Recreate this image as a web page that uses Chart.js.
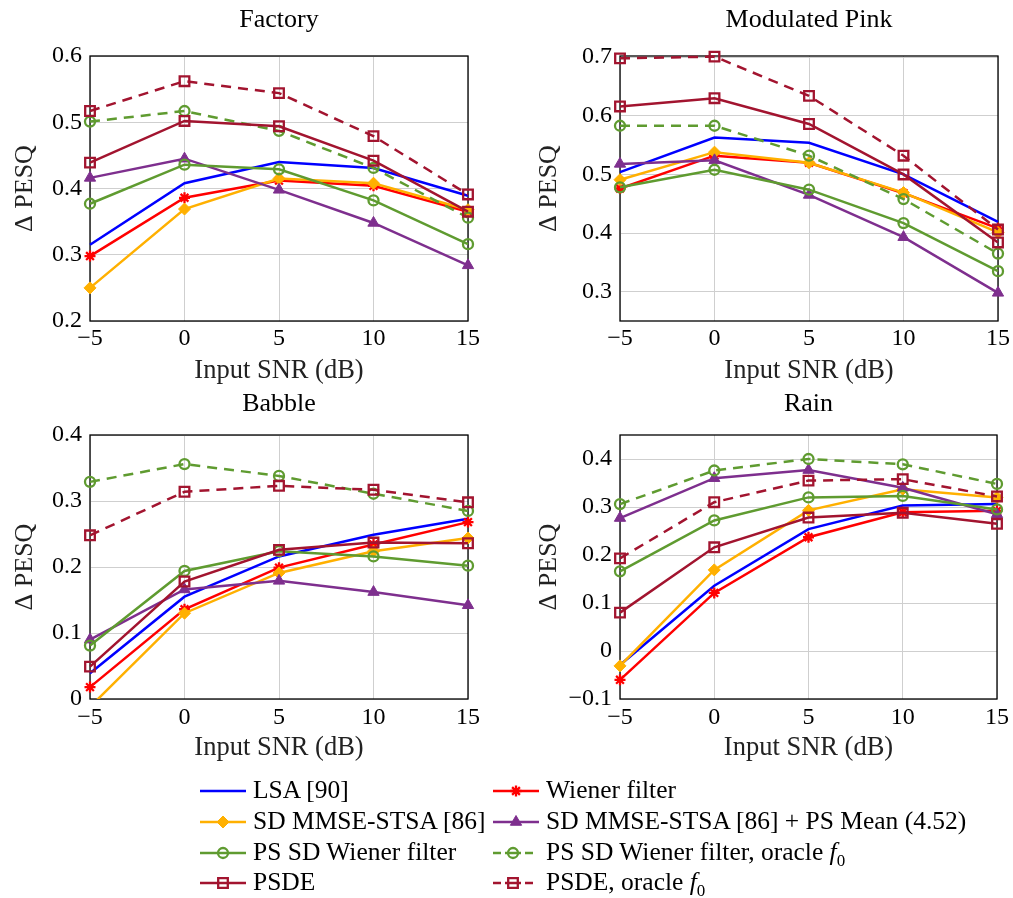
<!DOCTYPE html>
<html>
<head>
<meta charset="utf-8">
<script src="https://cdn.jsdelivr.net/npm/chart.js@4.4.0/dist/chart.umd.min.js"></script>
<style>
  body { margin: 0; background: #fff; width: 1013px; height: 898px; position: relative; overflow: hidden; font-family: 'Liberation Serif', serif; }
  canvas.panel { position: absolute; }
  #legendCanvas { position: absolute; left: 0; top: 770px; }
  .item { position: absolute; font-size: 25.5px; line-height: 30px; white-space: nowrap; color: #000; }
  .item sub { font-size: 17px; line-height: 0; }
</style>
</head>
<body>
<canvas id="factory" class="panel"></canvas>
<canvas id="pink" class="panel"></canvas>
<canvas id="babble" class="panel"></canvas>
<canvas id="rain" class="panel"></canvas>
<canvas id="legendCanvas" width="1013" height="128"></canvas>

<script>
// x values (input SNR in dB)
const snr = [-5, 0, 5, 10, 15];

// series names, in plotting order
const seriesNames = [
  'LSA [90]',
  'Wiener filter',
  'SD MMSE-STSA [86]',
  'SD MMSE-STSA [86] + PS Mean (4.52)',
  'PS SD Wiener filter',
  'PS SD Wiener filter, oracle <i>f</i><sub>0</sub>',
  'PSDE',
  'PSDE, oracle <i>f</i><sub>0</sub>'
];

// Δ PESQ values, one row per series (same order as seriesNames)
const factoryValues = [
  [0.315, 0.408, 0.440, 0.431, 0.389],
  [0.298, 0.386, 0.412, 0.404, 0.365],
  [0.250, 0.369, 0.415, 0.408, 0.368],
  [0.416, 0.445, 0.398, 0.348, 0.284],
  [0.377, 0.436, 0.429, 0.382, 0.316],
  [0.501, 0.517, 0.487, 0.431, 0.356],
  [0.439, 0.502, 0.494, 0.442, 0.365],
  [0.517, 0.562, 0.544, 0.479, 0.391]
];
const pinkValues = [
  [0.504, 0.563, 0.554, 0.500, 0.419],
  [0.476, 0.532, 0.520, 0.468, 0.408],
  [0.491, 0.538, 0.520, 0.469, 0.401],
  [0.518, 0.524, 0.465, 0.393, 0.298],
  [0.478, 0.508, 0.474, 0.417, 0.335],
  [0.583, 0.583, 0.532, 0.458, 0.365],
  [0.616, 0.630, 0.586, 0.500, 0.384],
  [0.698, 0.701, 0.634, 0.532, 0.406]
];
const babbleValues = [
  [0.039, 0.155, 0.216, 0.249, 0.273],
  [0.018, 0.136, 0.199, 0.234, 0.268],
  [-0.012, 0.130, 0.191, 0.224, 0.244],
  [0.090, 0.166, 0.179, 0.162, 0.142],
  [0.081, 0.194, 0.224, 0.216, 0.202],
  [0.329, 0.356, 0.338, 0.311, 0.285],
  [0.049, 0.178, 0.226, 0.237, 0.236],
  [0.248, 0.314, 0.323, 0.317, 0.298]
];
const rainValues = [
  [-0.029, 0.136, 0.254, 0.303, 0.306],
  [-0.060, 0.121, 0.237, 0.289, 0.292],
  [-0.031, 0.169, 0.293, 0.337, 0.320],
  [0.277, 0.360, 0.377, 0.340, 0.285],
  [0.166, 0.272, 0.320, 0.323, 0.295],
  [0.306, 0.376, 0.400, 0.389, 0.348],
  [0.080, 0.216, 0.278, 0.288, 0.265],
  [0.193, 0.310, 0.355, 0.358, 0.322]
];

// tick labels
const snrTicks = [-5, 0, 5, 10, 15];
const factoryTicks = [0.2, 0.3, 0.4, 0.5, 0.6];
const pinkTicks = [0.3, 0.4, 0.5, 0.6, 0.7];
const babbleTicks = [0, 0.1, 0.2, 0.3, 0.4];
const rainTicks = [-0.1, 0, 0.1, 0.2, 0.3, 0.4];

// series styles
const blue = '#0000ff', red = '#ff0000', orange = '#ffb000', purple = '#7e2f8e';
const green = '#5f9b30', darkRed = '#a2142f';
const styles = [
  { color: blue,    marker: false,      r: 0,   fill: false, dash: [] },
  { color: red,     marker: 'star',     r: 5.5, fill: false, dash: [] },
  { color: orange,  marker: 'rectRot',  r: 6,   fill: true,  dash: [] },
  { color: purple,  marker: 'triangle', r: 6.5, fill: true,  dash: [] },
  { color: green,   marker: 'circle',   r: 5,   fill: false, dash: [] },
  { color: green,   marker: 'circle',   r: 5,   fill: false, dash: [10, 7] },
  { color: darkRed, marker: 'rect',     r: 6.8, fill: false, dash: [] },
  { color: darkRed, marker: 'rect',     r: 6.8, fill: false, dash: [10, 7] }
];

const FONT = "'Liberation Serif', serif";
Chart.defaults.font.family = FONT;
Chart.defaults.color = '#000';

function fmt(v) {
  return (v < 0 ? '\u2212' : '') + Math.abs(v);
}

// frame around the plot area, under the data
const framePlugin = {
  id: 'frame',
  beforeDatasetsDraw(chart) {
    const a = chart.chartArea, ctx = chart.ctx;
    ctx.save();
    ctx.strokeStyle = '#000';
    ctx.lineWidth = 1.3;
    ctx.strokeRect(a.left, a.top, a.right - a.left, a.bottom - a.top);
    ctx.restore();
  }
};

function makePanel(id, p) {
  const cv = document.getElementById(id);
  cv.width = p.w; cv.height = p.h;
  cv.style.left = p.x + 'px'; cv.style.top = p.y + 'px';

  const datasets = p.values.map((vals, i) => {
    const s = styles[i];
    return {
      label: seriesNames[i],
      data: vals.map((v, j) => ({ x: snr[j], y: v })),
      borderColor: s.color,
      backgroundColor: s.fill ? s.color : 'rgba(0,0,0,0)',
      borderWidth: 2.5,
      borderDash: s.dash,
      pointStyle: s.marker,
      pointRadius: ctx => (ctx.raw && ctx.raw.y < p.min) ? 0 : s.r,
      pointBorderWidth: s.fill ? 1 : 2.3,
      pointBorderColor: s.color,
      pointBackgroundColor: s.fill ? s.color : 'rgba(0,0,0,0)',
      tension: 0,
      order: seriesNames.length - i,
      clip: { left: 12, right: 12, top: 12, bottom: 0 }
    };
  });

  new Chart(cv.getContext('2d'), {
    type: 'line',
    data: { datasets },
    plugins: [framePlugin],
    options: {
      responsive: false,
      animation: false,
      devicePixelRatio: 1,
      layout: { padding: { left: 0, right: p.padRight, top: 0, bottom: 0 } },
      plugins: {
        legend: { display: false },
        tooltip: { enabled: false },
        title: {
          display: true,
          text: p.title,
          fullSize: false,
          color: '#000',
          font: { size: 26, weight: 'normal', lineHeight: 1 },
          padding: { top: p.titleTop, bottom: p.titleBottom }
        }
      },
      scales: {
        x: {
          type: 'linear',
          min: -5, max: 15,
          afterBuildTicks: ax => { ax.ticks = snrTicks.map(v => ({ value: v })); },
          afterFit: ax => { ax.height = p.xHeight; },
          grid: { color: '#cfcfcf', lineWidth: 1, drawTicks: false },
          border: { display: false },
          ticks: { padding: p.xTickPad, font: { size: 24, lineHeight: 1.2 }, color: '#000', callback: fmt, maxRotation: 0 },
          title: { display: true, text: 'Input SNR (dB)', color: '#222', font: { size: 26.5, lineHeight: 1 }, padding: { top: 0, bottom: p.xTitleBottom } }
        },
        y: {
          type: 'linear',
          min: p.min, max: p.max,
          afterBuildTicks: ax => { ax.ticks = p.ticks.map(v => ({ value: v })); },
          afterFit: ax => { ax.width = p.yWidth; },
          grid: { color: '#cfcfcf', lineWidth: 1, drawTicks: false },
          border: { display: false },
          ticks: { padding: 8, font: { size: 24, lineHeight: 1.2 }, color: '#000', callback: fmt },
          title: { display: true, text: '\u0394 PESQ', color: '#222', font: { size: 26, lineHeight: 1 }, padding: { top: p.yTitleTop, bottom: 0 } }
        }
      }
    }
  });
}

makePanel('factory', { x: 0, y: 0, w: 500, h: 385, padRight: 32, yWidth: 90, xHeight: 64,
  titleTop: 7, titleBottom: 23, xTickPad: 3, xTitleBottom: 1, yTitleTop: 12,
  title: 'Factory', values: factoryValues, ticks: factoryTicks, min: 0.2, max: 0.6 });
makePanel('pink', { x: 500, y: 0, w: 513, h: 385, padRight: 15, yWidth: 120, xHeight: 64,
  titleTop: 7, titleBottom: 23, xTickPad: 3, xTitleBottom: 1, yTitleTop: 36,
  title: 'Modulated Pink', values: pinkValues, ticks: pinkTicks, min: 0.25, max: 0.702 });
makePanel('babble', { x: 0, y: 385, w: 500, h: 385, padRight: 32, yWidth: 90, xHeight: 71,
  titleTop: 6, titleBottom: 18, xTickPad: 4, xTitleBottom: 9, yTitleTop: 12,
  title: 'Babble', values: babbleValues, ticks: babbleTicks, min: 0, max: 0.4 });
makePanel('rain', { x: 500, y: 385, w: 513, h: 385, padRight: 15, yWidth: 120, xHeight: 71,
  titleTop: 6, titleBottom: 18, xTickPad: 4, xTitleBottom: 9, yTitleTop: 36,
  title: 'Rain', values: rainValues, ticks: rainTicks, min: -0.1, max: 0.45 });

// shared legend below the panels, two columns
(function drawLegend() {
  const cv = document.getElementById('legendCanvas');
  const ctx = cv.getContext('2d');
  const cols = [200, 493], rows = [21, 52, 83, 113];
  seriesNames.forEach((name, i) => {
    const s = styles[i];
    const x0 = cols[i % 2], y = rows[Math.floor(i / 2)];
    const dashed = s.dash.length > 0;
    const mx = dashed ? x0 + 20 : x0 + 23;
    ctx.save();
    ctx.strokeStyle = s.color;
    ctx.lineWidth = 2.5;
    ctx.beginPath();
    if (dashed) {
      [[0, 8], [12, 28], [32, 40]].forEach(seg => { ctx.moveTo(x0 + seg[0], y); ctx.lineTo(x0 + seg[1], y); });
    } else {
      ctx.moveTo(x0, y); ctx.lineTo(x0 + 46, y);
    }
    ctx.stroke();
    if (s.marker) {
      ctx.fillStyle = s.fill ? s.color : 'rgba(0,0,0,0)';
      ctx.lineWidth = s.fill ? 1 : 2.3;
      Chart.helpers.drawPoint(ctx, { pointStyle: s.marker, radius: s.r, borderWidth: s.fill ? 1 : 2.3, rotation: 0 }, mx, y);
    }
    ctx.restore();

    const div = document.createElement('div');
    div.className = 'item';
    div.innerHTML = name;
    div.style.left = (i % 2 === 0 ? 253 : 546) + 'px';
    div.style.top = (770 + y - 16) + 'px';
    document.body.appendChild(div);
  });
})();
</script>
</body>
</html>
